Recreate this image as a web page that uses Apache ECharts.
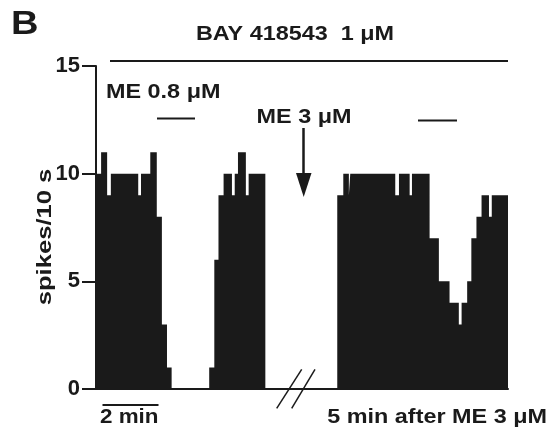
<!DOCTYPE html>
<html>
<head>
<meta charset="utf-8">
<script src="https://cdn.jsdelivr.net/npm/echarts@6/dist/echarts.min.js"></script>
<style>
html,body{margin:0;padding:0;background:#fff;}
#c{width:560px;height:444px;}
</style>
</head>
<body>
<div id="c"></div>
<script>
// Plot time (s) at which each 10-s count level starts, and the spike count
// First control episode (ME 0.8 uM application)
const t1 = [0, 11, 24, 32, 91, 97, 117, 131, 142, 153, 163];
const v1 = [10, 11, 9, 10, 9, 10, 11, 8, 3, 1, 0];
// Recovery
const t2 = [244, 255, 264, 275, 293, 299, 306, 323, 329, 365];
const v2 = [1, 6, 9, 10, 9, 10, 11, 9, 10, 0];
// 5 min after ME 3 uM
const t3 = [520, 533, 545, 548, 645, 653, 676, 681, 719, 739, 762, 782, 788, 800, 809, 820, 831, 847, 853, 888];
const v3 = [9, 10, 9, 10, 9, 10, 9, 10, 7, 5, 4, 3, 4, 5, 7, 8, 9, 8, 9, 9];

const yTicks = [0, 5, 10, 15];
const yName = 'spikes/10 s';

const pts = [];
[[t1, v1], [t2, v2], [t3, v3]].forEach(([t, v]) => {
  t.forEach((x, i) => pts.push([x, v[i]]));
});

const ink = '#1a1a1a';
const ff = '"Liberation Sans", Arial, sans-serif';
function txt(str, x, y, size, align, sx, rot) {
  return {
    type: 'text', x: x, y: y, scaleX: sx, scaleY: 1, rotation: rot || 0,
    style: {
      text: str, font: 'bold ' + size + 'px ' + ff, fill: ink,
      align: align, verticalAlign: 'middle',
      textAlign: align, textVerticalAlign: 'middle'
    }
  };
}
function ln(x1, y1, x2, y2, w) {
  return { type: 'line', shape: { x1: x1, y1: y1, x2: x2, y2: y2 },
    style: { stroke: ink, lineWidth: w } };
}

const chart = echarts.init(document.getElementById('c'), null, { renderer: 'canvas' });
chart.setOption({
  animation: false,
  backgroundColor: '#fff',
  grid: { left: 96, right: 52, top: 66, bottom: 55, containLabel: false },
  xAxis: {
    type: 'value', min: 0, max: 888,
    axisLine: { show: true, lineStyle: { color: ink, width: 2 } },
    axisTick: { show: false }, axisLabel: { show: false }, splitLine: { show: false }
  },
  yAxis: {
    type: 'value', min: yTicks[0], max: yTicks[yTicks.length - 1], interval: 5,
    axisLine: { show: true, lineStyle: { color: ink, width: 2 } },
    axisTick: { show: true, length: 14, lineStyle: { color: ink, width: 2 } },
    axisLabel: { margin: 16, fontFamily: '"Liberation Sans Narrow", ' + ff, fontWeight: 'bold', fontSize: 22, color: ink },
    splitLine: { show: false }
  },
  series: [{
    type: 'line', step: 'end', data: pts, showSymbol: false, symbol: 'none',
    lineStyle: { width: 0, color: ink },
    areaStyle: { color: ink, opacity: 1 },
    itemStyle: { color: ink }
  }],
  graphic: [
    txt('B', 11, 24.5, 34, 'left', 1.12),
    txt('BAY 418543  1 \u03bcM', 295, 34, 20, 'center', 1.17),
    ln(110, 61, 508, 61, 2),
    txt('ME 0.8 \u03bcM', 106, 92.5, 20, 'left', 1.17),
    ln(157, 118.5, 195, 118.5, 2),
    txt('ME 3 \u03bcM', 304, 117.5, 20, 'center', 1.17),
    ln(418, 120.5, 457, 120.5, 2),
    ln(303.5, 128, 303.5, 176, 2.5),
    { type: 'polygon', shape: { points: [[296, 173], [311.5, 173], [303.7, 197]] }, style: { fill: ink } },
    ln(102.5, 405, 158.5, 405, 2),
    txt('2 min', 100, 417.5, 20, 'left', 1.12),
    txt('5 min after ME 3 \u03bcM', 547, 417.5, 20, 'right', 1.17),
    txt(yName, 45, 237, 21, 'center', 1.22, Math.PI / 2),
    ln(276.7, 408.3, 301.7, 369.3, 1.5),
    ln(291.7, 408.3, 315, 369.3, 1.5)
  ]
});
</script>
</body>
</html>
